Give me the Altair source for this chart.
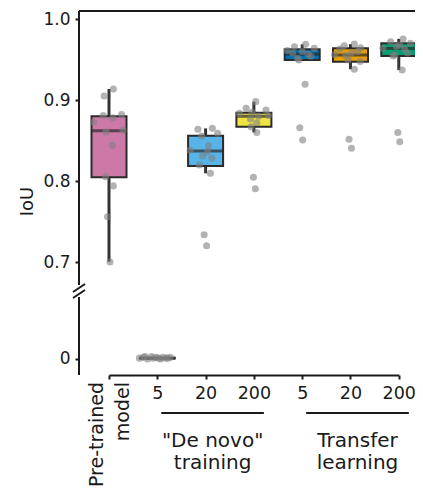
import json
import altair as alt
import pandas as pd

# ---------------- data ----------------
cats = ["pre", "dn5", "dn20", "dn200", "tl5", "tl20", "tl200"]
tick_labels = ["", "5", "20", "200", "5", "20", "200"]
box_colors = ["#CC79A7", "#D55E00", "#56B4E9", "#F0E442", "#0072B2", "#E69F00", "#009E73"]

# box statistics (lower whisker, q1, median, q3, upper whisker)
whisker_lo = [0.7004, 0.0000, 0.8095, 0.8600, 0.9494, 0.9380, 0.9370]
q1 = [0.8046, 0.0005, 0.8185, 0.8670, 0.9494, 0.9473, 0.9545]
median = [0.8620, 0.0010, 0.8370, 0.8800, 0.9564, 0.9556, 0.9635]
q3 = [0.8800, 0.0015, 0.8560, 0.8844, 0.9626, 0.9638, 0.9700]
whisker_hi = [0.9136, 0.0030, 0.8650, 0.8980, 0.9687, 0.9690, 0.9755]

# individual observations and their horizontal jitter (fraction of category step)
pts_pre = [0.9136, 0.905, 0.8725, 0.881, 0.878, 0.882, 0.8605, 0.8626, 0.844, 0.8053, 0.794, 0.756, 0.700]
jit_pre = [0.09, -0.10, -0.32, -0.12, 0.08, 0.26, -0.06, 0.29, 0.07, -0.07, 0.09, -0.03, 0.02]
pts_dn5 = [0.001, 0.002, 0.000, 0.003, 0.001, 0.002, 0.001, 0.000, 0.002, 0.001, 0.003, 0.001, 0.002]
jit_dn5 = [-0.37, -0.29, -0.20, -0.12, -0.08, -0.02, 0.03, 0.07, 0.12, 0.18, -0.25, 0.22, 0.27]
pts_dn20 = [0.864, 0.8556, 0.865, 0.859, 0.8436, 0.838, 0.836, 0.831, 0.828, 0.8198, 0.8095, 0.7337, 0.720]
jit_dn20 = [-0.16, -0.08, 0.14, 0.25, 0.06, -0.32, 0.04, -0.06, 0.13, -0.13, 0.10, -0.03, 0.02]
pts_dn200 = [0.898, 0.8897, 0.8877, 0.8836, 0.881, 0.8765, 0.872, 0.867, 0.860, 0.8046, 0.7905, 0.880, 0.885]
jit_dn200 = [0.04, -0.16, 0.25, -0.30, 0.30, -0.07, 0.06, -0.06, 0.06, -0.01, 0.03, 0.10, -0.04]
pts_tl5 = [0.9658, 0.9687, 0.9638, 0.961, 0.9495, 0.9194, 0.8658, 0.8506, 0.9564, 0.958, 0.954, 0.960, 0.9515]
jit_tl5 = [-0.16, 0.07, 0.25, -0.31, -0.07, 0.06, -0.05, 0.01, 0.12, -0.20, 0.18, 0.00, -0.10]
pts_tl20 = [0.967, 0.969, 0.9645, 0.956, 0.938, 0.8515, 0.8404, 0.955, 0.960, 0.9495, 0.9475, 0.958, 0.963]
jit_tl20 = [-0.13, 0.08, 0.21, -0.33, 0.08, -0.03, 0.02, -0.10, 0.15, -0.05, 0.20, 0.02, -0.22]
pts_tl200 = [0.972, 0.9753, 0.970, 0.9638, 0.9556, 0.937, 0.860, 0.8485, 0.963, 0.966, 0.958, 0.968, 0.9545]
jit_tl200 = [-0.17, 0.09, 0.24, -0.33, -0.08, 0.07, -0.02, 0.02, 0.12, -0.05, 0.18, 0.02, -0.12]

group_names = ['"De novo"\ntraining', "Transfer\nlearning"]
group_start = ["dn5", "tl5"]
group_mid = ["dn20", "tl20"]
group_end = ["dn200", "tl200"]
pretrained_label = "Pre-trained\nmodel"
y_ticks = [0, 0.7, 0.8, 0.9, 1.0]

# ---------------- tables ----------------
boxes = pd.DataFrame({"cat": cats, "lo": whisker_lo, "q1": q1, "med": median,
                      "q3": q3, "hi": whisker_hi, "color": box_colors})
all_pts = [pts_pre, pts_dn5, pts_dn20, pts_dn200, pts_tl5, pts_tl20, pts_tl200]
all_jit = [jit_pre, jit_dn5, jit_dn20, jit_dn200, jit_tl5, jit_tl20, jit_tl200]
rows = []
for c, vals, jits in zip(cats, all_pts, all_jit):
    for v, j in zip(vals, jits):
        rows.append({"cat": c, "iou": v, "jit": j})
points = pd.DataFrame(rows)
groups = pd.DataFrame({"name": group_names, "start": group_start, "mid": group_mid, "end": group_end})
one = pd.DataFrame({"a": [0]})

# ---------------- layout ----------------
W, H = 336, 364
STEP = 48.3
FONT = "DejaVu Sans"
INK = "#1a1a1a"

xscale = alt.Scale(type="point", domain=cats, range=[30, 30 + 6 * STEP], padding=0)
yscale = alt.Scale(domain=[-0.0198, 0.0827, 0.663, 1.0099], range=[H, 281, 281, 0],
                   nice=False, zero=False)

label_expr = "%s[indexof(%s, datum.value)]" % (json.dumps(tick_labels), json.dumps(cats))
xaxis = alt.Axis(title=None, labelExpr=label_expr, labelAngle=0, labelFont=FONT,
                 labelFontSize=17.5, labelColor=INK, labelPadding=5, tickSize=4,
                 tickWidth=2, tickColor=INK, domainWidth=2, domainColor=INK, grid=False)
yaxis = alt.Axis(title="IoU", values=y_ticks,
                 labelExpr="datum.value == 0 ? '0' : format(datum.value, '.1f')",
                 labelFont=FONT, labelFontSize=17, labelColor=INK, labelPadding=5,
                 tickSize=4, tickWidth=2, tickColor=INK, domain=False, grid=False,
                 titleFont=FONT, titleFontSize=18, titleFontWeight="normal",
                 titleColor=INK, titlePadding=6, titleY=190)

X = alt.X("cat:N", scale=xscale, axis=xaxis)

whiskers = alt.Chart(boxes).mark_rule(color="#333333", strokeWidth=3).encode(
    x=X, y=alt.Y("lo:Q", scale=yscale, axis=yaxis), y2="hi:Q")

bars = alt.Chart(boxes).mark_bar(size=35, stroke="#2b2b2b", strokeWidth=2).encode(
    x=X, y=alt.Y("q1:Q", scale=yscale), y2="q3:Q",
    color=alt.Color("color:N", scale=None))

meds = alt.Chart(boxes).mark_tick(size=35, thickness=3, color="#2b2b2b").encode(
    x=X, y=alt.Y("med:Q", scale=yscale))

dots = alt.Chart(points).mark_circle(size=50, color="#808080", opacity=0.6).encode(
    x=X, y=alt.Y("iou:Q", scale=yscale),
    xOffset=alt.XOffset("jit:Q", scale=alt.Scale(domain=[-0.5, 0.5], range=[-STEP / 2, STEP / 2])))

# frame: top line, left axis line with break marks
top_line = alt.Chart(one).mark_rule(color=INK, strokeWidth=2).encode(
    x=alt.value(0), x2=alt.value(W), y=alt.value(0))
left_up = alt.Chart(one).mark_rule(color=INK, strokeWidth=2).encode(
    x=alt.value(0), y=alt.value(0), y2=alt.value(274))
left_down = alt.Chart(one).mark_rule(color=INK, strokeWidth=2).encode(
    x=alt.value(0), y=alt.value(286), y2=alt.value(H))
slash1 = alt.Chart(one).mark_rule(color=INK, strokeWidth=2).encode(
    x=alt.value(-6), x2=alt.value(6), y=alt.value(281), y2=alt.value(273))
slash2 = alt.Chart(one).mark_rule(color=INK, strokeWidth=2).encode(
    x=alt.value(-6), x2=alt.value(6), y=alt.value(287), y2=alt.value(279))

pre_text = alt.Chart(pd.DataFrame({"cat": ["pre"], "t": [pretrained_label]})).mark_text(
    angle=270, align="right", baseline="middle", lineBreak="\n", font=FONT,
    fontSize=19, lineHeight=26, color=INK, dy=-12).encode(
    x=X, y=alt.value(371), text="t:N")

group_rules = alt.Chart(groups).mark_rule(color=INK, strokeWidth=2, xOffset=5,
                                          x2Offset=9, strokeCap="square").encode(
    x=alt.X("start:N", scale=xscale, axis=xaxis), x2="end:N", y=alt.value(402))

group_text = alt.Chart(groups).mark_text(
    baseline="top", align="center", lineBreak="\n", font=FONT, fontSize=20,
    lineHeight=22, color=INK, dx=7).encode(
    x=alt.X("mid:N", scale=xscale, axis=xaxis), y=alt.value(420), text="name:N")

chart = alt.layer(
    whiskers, bars, meds, dots, top_line, left_up, left_down, slash1, slash2,
    pre_text, group_rules, group_text
).properties(
    width=W, height=H, autosize="none",
    padding={"left": 71, "top": 3, "right": 0, "bottom": 114},
).configure_view(stroke=None)

chart.save("out.html", embed_options={"renderer": "svg", "actions": False})
